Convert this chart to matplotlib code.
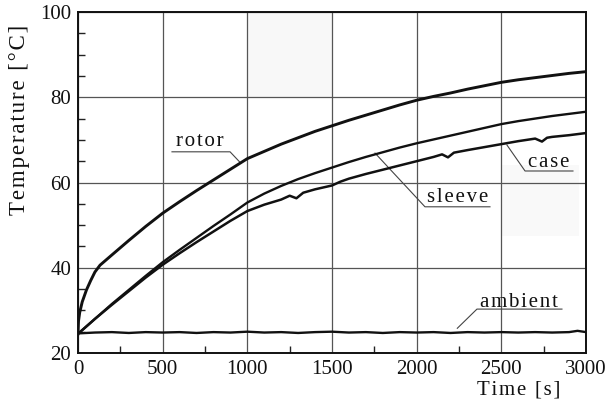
import matplotlib
matplotlib.use("Agg")
import matplotlib.pyplot as plt
from matplotlib.ticker import MultipleLocator

FONT = ['Liberation Serif', 'DejaVu Serif']
plt.rcParams['font.family'] = FONT

HS = '\u200a'   # hair space for letter spacing


def spaced(s, sep=HS):
    return sep.join(list(s))


# ---- data ----
rotor_t = [0, 3, 10, 25, 50, 75, 100, 130, 200, 300, 400, 500, 600, 700, 800, 900,
           1000, 1100, 1200, 1300, 1400, 1500, 1600, 1700, 1800, 1900, 2000, 2100,
           2200, 2300, 2400, 2500, 2600, 2700, 2800, 2900, 3000]
rotor_T = [24.5, 27.5, 29.5, 32.0, 34.8, 37.0, 39.0, 40.6, 43.0, 46.4, 49.7, 52.8,
           55.5, 58.1, 60.6, 63.1, 65.6, 67.3, 69.0, 70.5, 72.0, 73.3, 74.6, 75.8,
           77.0, 78.2, 79.3, 80.2, 81.0, 81.9, 82.7, 83.5, 84.1, 84.6, 85.1, 85.6, 86.0]

sleeve_t = [0, 100, 200, 300, 400, 500, 600, 700, 800, 900, 1000, 1100, 1200, 1300,
            1400, 1500, 1600, 1700, 1800, 1900, 2000, 2100, 2200, 2300, 2400, 2500,
            2600, 2700, 2800, 2900, 3000]
sleeve_T = [24.5, 28.0, 31.5, 34.8, 38.1, 41.3, 44.2, 47.0, 49.8, 52.5, 55.3, 57.4,
            59.2, 60.8, 62.2, 63.5, 64.8, 66.0, 67.1, 68.2, 69.2, 70.1, 71.0, 71.9,
            72.8, 73.7, 74.4, 75.0, 75.6, 76.1, 76.6]

case_t = [0, 100, 200, 300, 400, 500, 600, 700, 800, 900, 1000, 1100, 1200, 1250,
          1290, 1330, 1400, 1500, 1550, 1600, 1700, 1800, 1900, 2000, 2100, 2150,
          2185, 2220, 2300, 2400, 2500, 2600, 2700, 2740, 2770, 2800, 2900, 3000]
case_T = [24.5, 28.0, 31.3, 34.5, 37.7, 40.7, 43.4, 46.0, 48.5, 51.0, 53.3, 54.8,
          56.0, 56.9, 56.3, 57.6, 58.4, 59.3, 60.2, 60.9, 62.0, 63.0, 64.0, 65.0,
          66.0, 66.6, 65.9, 67.0, 67.6, 68.3, 69.0, 69.7, 70.3, 69.6, 70.5, 70.7,
          71.1, 71.6]

amb_t = [0, 100, 200, 300, 400, 500, 600, 700, 800, 900, 1000, 1100, 1200, 1300,
         1400, 1500, 1600, 1700, 1800, 1900, 2000, 2100, 2200, 2300, 2400, 2500,
         2600, 2700, 2800, 2900, 2950, 3000]
amb_T = [24.6, 24.8, 24.9, 24.7, 24.9, 24.8, 24.9, 24.7, 24.9, 24.8, 25.0, 24.8,
         24.9, 24.7, 24.9, 25.0, 24.8, 24.9, 24.7, 24.9, 24.8, 24.9, 24.7, 24.9,
         24.8, 24.9, 24.8, 24.9, 24.8, 24.9, 25.2, 24.9]

x_ticks = [0, 500, 1000, 1500, 2000, 2500, 3000]
y_ticks = [20, 40, 60, 80, 100]

fig = plt.figure(figsize=(6.1, 4.05), dpi=100)
ax = fig.add_axes([78/610, 1-353/405, (586-78)/610, (353-12)/405])

# faint scan shading
ax.axvspan(1000, 1500, ymin=0.75, ymax=1.0, color='#f8f8f8', zorder=0, lw=0)
ax.axvspan(2500, 2960, ymin=(47.5-20)/80, ymax=(64-20)/80, color='#f9f9f9', zorder=0, lw=0)

ax.set_xlim(0, 3000)
ax.set_ylim(20, 100)
ax.set_xticks(x_ticks)
ax.set_yticks(y_ticks)
ax.set_xticklabels([str(v) for v in x_ticks])
ax.set_yticklabels([str(v) for v in y_ticks])
ax.xaxis.set_minor_locator(MultipleLocator(250))
ax.yaxis.set_minor_locator(MultipleLocator(5))
ax.tick_params(which='major', length=0, labelsize=15, pad=5, colors='#111111')
ax.tick_params(which='minor', direction='in', length=5, width=1.0, color='#222222')
ax.grid(True, which='major', color='#555555', lw=0.9)
for s in ax.spines.values():
    s.set_linewidth(1.4)
    s.set_color('#111111')

lc = '#111111'
ax.plot(rotor_t, rotor_T, color=lc, lw=2.1, zorder=3)
ax.plot(sleeve_t, sleeve_T, color=lc, lw=1.7, zorder=3)
ax.plot(case_t, case_T, color=lc, lw=1.8, zorder=3)
ax.plot(amb_t, amb_T, color=lc, lw=1.7, zorder=3)

# labels with underline + leader
labels = [
    ('rotor', (720, 69.6), [(960, 64.6), (898, 67.2), (555, 67.2)]),
    ('sleeve', (2244, 56.4), [(1754, 66.9), (2049, 54.3), (2433, 54.3)]),
    ('case', (2781, 64.6), [(2533, 68.8), (2640, 62.7), (2923, 62.7)]),
    ('ambient', (2604, 31.8), [(2240, 25.8), (2356, 30.3), (2858, 30.3)]),
]
for txt, (tx, ty), pts in labels:
    ax.text(tx, ty, spaced(txt), ha='center', va='center', fontsize=15,
            color='#111111', zorder=4)
    ax.plot([p[0] for p in pts], [p[1] for p in pts], color='#444444', lw=0.8,
            zorder=2)

fig.text(20/610, 1-120/405, spaced('Temperature [°C]'), rotation=90,
         ha='center', va='center', fontsize=16.5, color='#111111')
fig.text(519/610, 1-390/405, spaced('Time [s]'), ha='center', va='center',
         fontsize=15, color='#111111')

fig.savefig('out.png', dpi=100)
